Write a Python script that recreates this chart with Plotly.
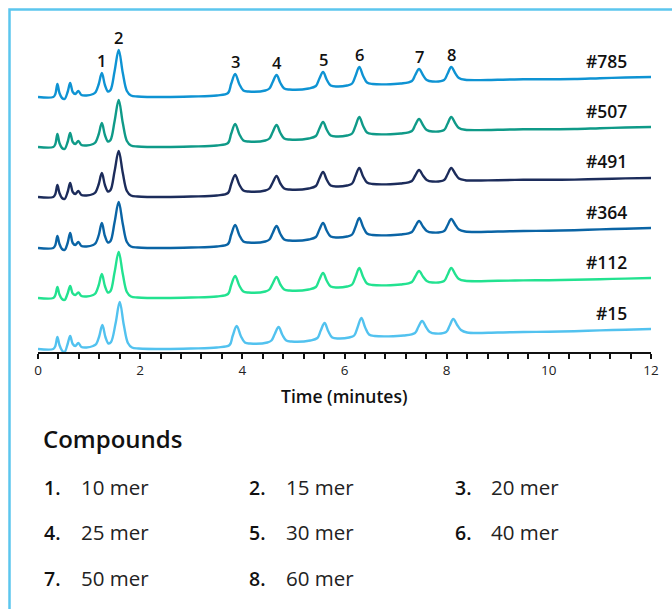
import plotly.graph_objects as go

# ---------------- data ----------------
# key time points (minutes) of the chromatograms
T = [0.00, 0.30, 0.34, 0.38, 0.42, 0.47, 0.52, 0.58, 0.63, 0.68, 0.73, 0.79, 0.85, 0.95, 1.08,
     1.13, 1.19, 1.25, 1.31, 1.37,
     1.42, 1.50, 1.58, 1.66, 1.74, 1.82, 1.95,
     2.5, 3.0, 3.5,
     3.72, 3.78, 3.86, 3.94, 4.02, 4.12,
     4.45,
     4.53, 4.595, 4.67, 4.745, 4.82, 4.92,
     5.3,
     5.44, 5.505, 5.58, 5.655, 5.73, 5.85,
     6.05,
     6.15, 6.215, 6.29, 6.365, 6.44, 6.55,
     7.1,
     7.32, 7.385, 7.46, 7.535, 7.61, 7.72,
     7.95, 8.015, 8.09, 8.165, 8.24, 8.36,
     9.0, 9.5, 10.0, 10.5, 11.0, 11.5, 12.0]

T15 = [0.00, 0.30, 0.34, 0.38, 0.42, 0.47, 0.52, 0.58, 0.63, 0.68, 0.73, 0.79, 0.85, 0.95, 1.08,
       1.14, 1.20, 1.26, 1.32, 1.38,
       1.43, 1.52, 1.60, 1.68, 1.76, 1.84, 1.97,
       2.5, 3.0, 3.5,
       3.75, 3.81, 3.89, 3.97, 4.05, 4.15,
       4.49,
       4.57, 4.635, 4.71, 4.785, 4.86, 4.96,
       5.33,
       5.47, 5.535, 5.61, 5.685, 5.76, 5.88,
       6.09,
       6.19, 6.255, 6.33, 6.405, 6.48, 6.59,
       7.16,
       7.38, 7.445, 7.52, 7.595, 7.67, 7.78,
       7.99, 8.055, 8.13, 8.205, 8.28, 8.40,
       9.0, 9.5, 10.0, 10.5, 11.0, 11.5, 12.0]

S785 = [0, 0, 3, 13, 4, -1, -2, 5, 14, 5, 3, 6, 2, 1.5, 3,
        5, 13, 24, 12, 5.5,
        7, 26, 47, 24, 6, 1.5, 0.5,
        0, 0.5, 1.5,
        4, 13, 23, 13, 6.5, 5.5,
        6.5,
        8.5, 15, 22, 14, 8.5, 7.5,
        8.5,
        11, 18, 25, 17, 11.5, 10.5,
        11.5,
        13.5, 21, 30, 21, 14.5, 13,
        13.5,
        16, 22, 28, 22, 17, 15.5,
        17, 23, 30, 24, 19, 17.2,
        17.3, 17.8, 17.8, 18, 18.8, 19.5, 20]

S507 = [0, 0, 3, 13, 4, -1, -2, 5, 14, 5, 3, 6, 2, 1.5, 3,
        5, 13, 24, 12, 5.5,
        7, 26, 47, 24, 6, 1.5, 0.5,
        0, 0.5, 1.5,
        4, 13, 23, 13, 6.5, 5.5,
        6.5,
        8.5, 15, 22, 14, 8.5, 7.5,
        8.5,
        11, 18, 25, 17, 11.5, 10.5,
        11.5,
        13.5, 21, 30, 21, 14.5, 13,
        13.5,
        16, 22, 28, 22, 17, 15.5,
        17, 23, 30, 24, 19, 17.2,
        17.3, 17.8, 17.8, 18, 18.8, 19.5, 20]

S491 = [0, 0, 3, 12, 4, -1, -2, 5, 14, 5, 3, 6, 2, 1.5, 3,
        5, 13, 24, 12, 5.5,
        7, 26, 46, 24, 6, 1.5, 0.5,
        0, 0.5, 1.5,
        4, 12.5, 22, 12.5, 6.5, 5.5,
        6.5,
        8.5, 14.5, 21, 13.5, 8.5, 7.5,
        8.5,
        11, 18, 25, 17, 11.5, 10.5,
        11.5,
        13.5, 21, 29, 20.5, 14.5, 13,
        13.5,
        16, 21.5, 27, 21.5, 17, 15.5,
        17, 22.5, 29, 23.5, 18.5, 16.8,
        16.8, 17.2, 17.2, 17.4, 18, 18.6, 19]

S364 = [0, 0, 3, 12, 4, -1, -2, 5, 15, 5, 3, 6, 2, 1.5, 3,
        5, 13, 25, 12, 5.5,
        7, 26, 46, 24, 6, 1.5, 0.5,
        0, 0.5, 1.5,
        4, 13, 23, 13, 6.5, 5.5,
        6.5,
        8.5, 15, 22, 14, 8.5, 7.5,
        8.5,
        11, 18, 25, 17, 11.5, 10.5,
        11.5,
        13.5, 21, 30, 21, 14.5, 13,
        13.5,
        16, 21.5, 27, 21.5, 17, 15.5,
        17, 22.5, 29, 23.5, 18.5, 16.5,
        16.5, 17, 17.3, 17.8, 18.6, 19.3, 20]

S112 = [0, 0, 3, 11, 3.5, -1, -2, 4.5, 12, 4.5, 3, 5.5, 2, 1.5, 3,
        5, 13, 24, 12, 5.5,
        7, 26, 46, 24, 6, 1.5, 0.5,
        0, 0.5, 1.5,
        4, 12.5, 22, 12.5, 6.5, 5.5,
        6.5,
        8.5, 14.5, 21, 13.5, 8.5, 7.5,
        8.5,
        11, 18, 25, 17, 11.5, 10.5,
        11.5,
        13.5, 21, 30, 21, 14.5, 13,
        13.5,
        16, 21.5, 27, 21.5, 17, 15.5,
        17, 23, 30, 24, 19, 17.2,
        17.2, 17.6, 17.8, 18.2, 18.8, 19.4, 20]

S15 = [0, 0, 3, 12, 4, -1.5, -3, 5, 13, 5, 3, 6, 2, 1.5, 3,
       5, 13, 24, 12, 5.5,
       7, 26, 47, 24, 6, 1.5, 0.5,
       0, 0.5, 1.5,
       4, 13, 23, 13, 6.5, 5.5,
       6.5,
       8.5, 15, 22, 14, 8.5, 7.5,
       8.5,
       11, 18.5, 26, 17.5, 11.5, 10.5,
       11.5,
       13.5, 21.5, 31, 21.5, 14.5, 13,
       13.5,
       16, 22, 28, 22, 17, 15.5,
       17, 23, 30, 24, 19, 16.5,
       16.5, 17, 17.3, 17.8, 18.6, 19.3, 20]

SAMPLES = ["#785", "#507", "#491", "#364", "#112", "#15"]
SIGNALS = [S785, S507, S491, S364, S112, S15]
TIMES = [T, T, T, T, T, T15]
OFFSETS = [252, 202, 152, 101, 51, 0]
COLORS = ["#0E93D3", "#0F9A88", "#1C2C5B", "#0A64A5", "#22E290", "#52C2EF"]

PEAK_LABELS = ["1", "2", "3", "4", "5", "6", "7", "8"]
PEAK_T = [1.25, 1.58, 3.86, 4.67, 5.58, 6.29, 7.46, 8.09]

COMPOUND_NUMS = ["1.", "2.", "3.", "4.", "5.", "6.", "7.", "8."]
COMPOUND_NAMES = ["10 mer", "15 mer", "20 mer", "25 mer", "30 mer", "40 mer", "50 mer", "60 mer"]

X_TICKS = [0, 2, 4, 6, 8, 10, 12]

# ---------------- layout geometry ----------------
W, H = 672, 609
ML, MR, MT, MB = 38, 21, 20, 257
PW, PH = W - ML - MR, H - MT - MB
FONT = "Open Sans"


def px2x(px):
    return (px - ML) / PW


def py2y(py):
    return (H - MB - py) / PH


fig = go.Figure()
for name, t, s, off, col in zip(SAMPLES, TIMES, SIGNALS, OFFSETS, COLORS):
    fig.add_trace(go.Scatter(
        x=t, y=[v + off for v in s], mode="lines", name=name,
        line=dict(color=col, width=2.4, shape="spline", smoothing=1.0),
        hoverinfo="skip", showlegend=False,
    ))

annotations = []
# sample labels
for name, off in zip(SAMPLES, OFFSETS):
    annotations.append(dict(x=11.57, y=off + 36, xref="x", yref="y", text=name,
                            showarrow=False, xanchor="right", yanchor="middle",
                            font=dict(family=FONT, size=17.5, color="#111", weight=600)))
# peak labels above top trace
for lab, pt in zip(PEAK_LABELS, PEAK_T):
    i = T.index(pt)
    annotations.append(dict(x=pt, y=S785[i] + OFFSETS[0], xref="x", yref="y", text=lab,
                            showarrow=False, xanchor="center", yanchor="middle", yshift=13,
                            font=dict(family=FONT, size=16.5, color="#111", weight=600)))
# axis title
annotations.append(dict(x=0.5, y=py2y(396), xref="paper", yref="paper", text="Time (minutes)",
                        showarrow=False, xanchor="center", yanchor="middle",
                        font=dict(family=FONT, size=17.5, color="#111", weight=600)))
# compounds block
annotations.append(dict(x=px2x(41), y=py2y(438), xref="paper", yref="paper", text="Compounds",
                        showarrow=False, xanchor="left", yanchor="middle",
                        font=dict(family=FONT, size=24, color="#111", weight=600)))
col_num_px = [42, 247, 453]
col_txt_px = [79, 284, 489]
row_py = [487, 532, 578]
for k, (num, nm) in enumerate(zip(COMPOUND_NUMS, COMPOUND_NAMES)):
    r, c = divmod(k, 3)
    annotations.append(dict(x=px2x(col_num_px[c]), y=py2y(row_py[r]), xref="paper", yref="paper",
                            text=num, showarrow=False, xanchor="left", yanchor="middle",
                            font=dict(family=FONT, size=19.5, color="#111", weight=600)))
    annotations.append(dict(x=px2x(col_txt_px[c]), y=py2y(row_py[r]), xref="paper", yref="paper",
                            text=nm, showarrow=False, xanchor="left", yanchor="middle",
                            font=dict(family=FONT, size=20.5, color="#222")))

fig.update_layout(
    width=W, height=H,
    margin=dict(l=ML, r=MR, t=MT, b=MB, autoexpand=False),
    paper_bgcolor="white", plot_bgcolor="white",
    xaxis=dict(range=[0, 12], tickvals=X_TICKS, ticks="outside", ticklen=5, tickwidth=1.5,
               tickcolor="#111", showline=True, linecolor="#111", linewidth=1.5,
               showgrid=False, zeroline=False,
               tickfont=dict(family=FONT, size=13.5, color="#222"),
               minor=dict(tick0=0, dtick=0.4, ticks="outside", ticklen=5, tickwidth=1.5,
                          tickcolor="#111", showgrid=False)),
    yaxis=dict(range=[-3, PH - 3], visible=False, fixedrange=True),
    annotations=annotations,
    shapes=[dict(type="rect", xref="paper", yref="paper",
                 x0=px2x(9.5), y0=py2y(9.5), x1=px2x(720), y1=py2y(660),
                 line=dict(color="#5CC6EE", width=2.5), fillcolor="rgba(0,0,0,0)", layer="below")],
)

fig.write_html("out.html")
